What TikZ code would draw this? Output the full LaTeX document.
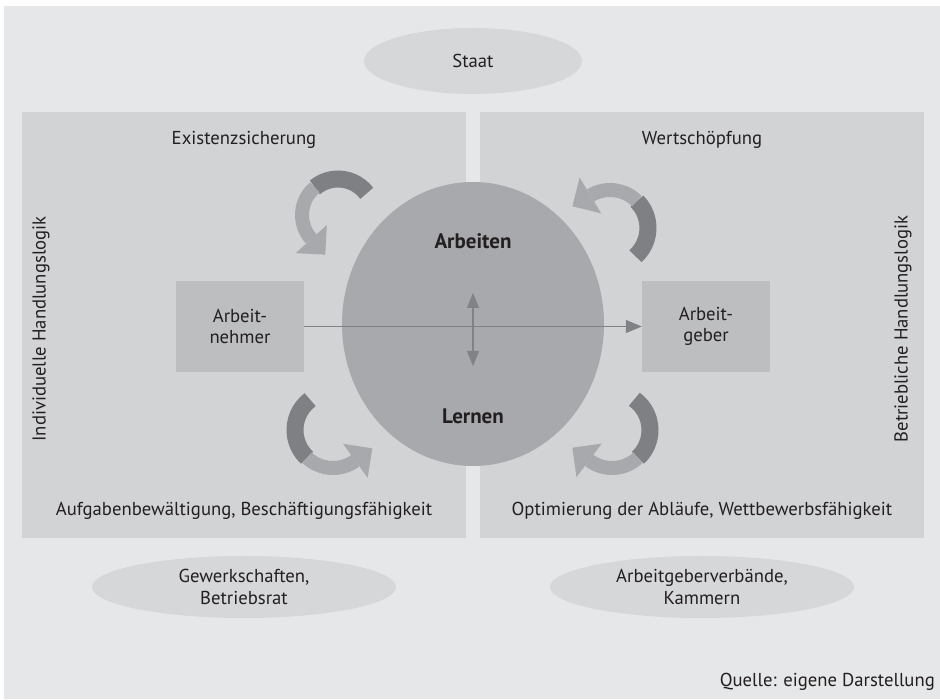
\documentclass[tikz,border=0pt]{standalone}
\usepackage{fontspec}
\setmainfont{PT Sans}
\usetikzlibrary{shapes.geometric,arrows.meta,calc}
\definecolor{bgc}{HTML}{E6E7E8}
\definecolor{panelc}{HTML}{D2D3D5}
\definecolor{ellc}{HTML}{D6D7D9}
\definecolor{circc}{HTML}{A7A9AC}
\definecolor{boxc}{HTML}{BCBEC0}
\definecolor{dkc}{HTML}{7F8083}
\definecolor{ltc}{HTML}{A8A9AC}
\definecolor{linec}{HTML}{808285}
\definecolor{txtc}{HTML}{231F20}
\newcommand{\twotonearrow}[7]{% cx cy r a0 am a1 dir
  \pgfmathsetmacro{\tdir}{#6+#7*90}
  \draw[dkc, line width=17pt] ($(#1,#2)+(#4:#3)$) arc[start angle=#4, end angle=#5, radius=#3];
  \draw[ltc, line width=14pt] ($(#1,#2)+(#5:#3)$) arc[start angle=#5, end angle=#6, radius=#3];
  \fill[ltc] ($(#1,#2)+(#6:#3)+(#6:21)$) -- ($(#1,#2)+(#6:#3)+(\tdir:21)$) -- ($(#1,#2)+(#6:#3)+(#6:-21)$) -- cycle;
}
\tikzset{
  x=1pt, y=1pt,
  lbl/.style={text=txtc, font=\fontsize{18.7}{21.5}\selectfont, inner sep=0pt, align=center},
  bold/.style={text=txtc, font=\fontsize{21}{24}\selectfont\bfseries, inner sep=0pt},
  oval/.style={ellipse, fill=ellc, inner sep=0pt, text=txtc, font=\fontsize{18.7}{21.5}\selectfont, align=center},
  actor/.style={rectangle, fill=boxc, minimum width=128pt, minimum height=91pt, inner sep=0pt, text=txtc, font=\fontsize{18.7}{21.5}\selectfont, align=center},
  conn/.style={linec, line width=1.2pt},
}
\begin{document}
\begin{tikzpicture}
\useasboundingbox (0,0) rectangle (940,699);
\fill[bgc] (4,0) rectangle (940,693);
\fill[panelc] (22,161) rectangle (466,587);
\fill[panelc] (480,161) rectangle (924,587);

\node[oval, minimum width=218pt, minimum height=66pt] (staat) at (473,638) {Staat};
\node[oval, minimum width=304pt, minimum height=62pt] (gew) at (244,112) {Gewerkschaften,\\Betriebsrat};
\node[oval, minimum width=304pt, minimum height=62pt] (agv) at (702,112) {Arbeitgeberverbände,\\Kammern};

\node[ellipse, fill=circc, minimum width=262pt, minimum height=284pt, inner sep=0pt] (kreis) at (473,375) {};
\node[bold] (arbeiten) at (473,458) {Arbeiten};
\node[bold] (lernen) at (473,283) {Lernen};

\node[actor] (nehmer) at (240,372.5) {Arbeit-\\nehmer};
\node[actor] (geber) at (706,372.5) {Arbeit-\\geber};

\node[lbl] (exist) at (244,559) {Existenzsicherung};
\node[lbl] (wert) at (702,559) {Wertschöpfung};
\node[lbl] (aufg) at (244,188) {Aufgabenbewältigung, Beschäftigungsfähigkeit};
\node[lbl] (opt) at (702,188) {Optimierung der Abläufe, Wettbewerbsfähigkeit};
\node[lbl, rotate=90] (indiv) at (41,370) {Individuelle Handlungslogik};
\node[lbl, rotate=90] (betr) at (903,370) {Betriebliche Handlungslogik};
\node[lbl, anchor=east] (quelle) at (935,17) {Quelle: eigene Darstellung};

\draw[conn, -{Triangle[length=16pt,width=13pt]}] (nehmer.east) -- (geber.west);
\coordinate (vt) at (473,406);
\coordinate (vb) at (473,333);
\draw[conn, {Triangle[length=15pt,width=12pt]}-{Triangle[length=15pt,width=12pt]}] (vt) -- (vb);

\twotonearrow{338}{484}{36}{37}{130}{222}{1}
\twotonearrow{610}{471}{38}{-48}{45}{121}{1}
\twotonearrow{333}{269}{38}{127}{227}{306}{1}
\twotonearrow{612}{269}{38}{54}{-47}{-127}{-1}
\end{tikzpicture}
\end{document}
